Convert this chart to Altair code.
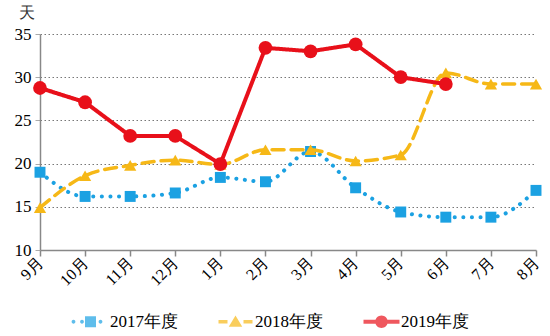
import altair as alt
import pandas as pd

months = ["9月", "10月", "11月", "12月", "1月", "2月", "3月", "4月", "5月", "6月", "7月", "8月"]
series = ["2017年度", "2018年度", "2019年度"]
v2017 = [19.0, 16.2, 16.2, 16.6, 18.4, 17.9, 21.4, 17.2, 14.4, 13.8, 13.8, 16.9]
v2018 = [14.9, 18.6, 19.8, 20.4, 19.9, 21.6, 21.6, 20.3, 21.0, 30.5, 29.2, 29.2]
v2019 = [28.75, 27.1, 23.2, 23.2, 19.95, 33.4, 33.0, 33.8, 30.0, 29.2, None, None]
y_ticks = [10, 15, 20, 25, 30, 35]

colors = ["#1BA1E2", "#F6B817", "#E8101A"]

rows = []
for s, vals in zip(series, [v2017, v2018, v2019]):
    for m, v in zip(months, vals):
        if v is not None:
            rows.append({"month": m, "value": v, "series": s})
df = pd.DataFrame(rows)

FONT = "Liberation Serif"

x_enc = alt.X("month:N", sort=months, scale=alt.Scale(domain=months, padding=0),
              axis=alt.Axis(title=None, labelAngle=-45, labelAlign="right", labelBaseline="middle",
                            labelFont=FONT, labelFontSize=16, labelColor="#000", labelPadding=4,
                            domainColor="#888", domainWidth=1.5, tickColor="#888", tickSize=6,
                            tickWidth=1.5, grid=False))
y_enc = alt.Y("value:Q", scale=alt.Scale(domain=[10, 35], nice=False, zero=False),
              axis=alt.Axis(values=y_ticks, title="天", titleAngle=0, titleX=-22, titleY=-14,
                            titleAlign="left", titleFont=FONT, titleFontSize=16,
                            titleFontWeight="normal", titleColor="#333",
                            labelFont=FONT, labelFontSize=17, labelColor="#000", labelPadding=4,
                            domainColor="#888", domainWidth=1.5, tickColor="#aaa", tickSize=5,
                            grid=True, gridColor="#777", gridDash=[1.5, 2.5], gridWidth=1))

styles = {
    "2017年度": dict(dash=[0.1, 8.5], width=4, shape="square", size=120, interp="monotone"),
    "2018年度": dict(dash=[12, 7], width=3.5, shape="triangle-up", size=150, interp="monotone"),
    "2019年度": dict(dash=[1, 0], width=4, shape="circle", size=190, interp="linear"),
}

layers = []
for s, c in zip(series, colors):
    st = styles[s]
    base = alt.Chart(df).transform_filter(alt.datum.series == s)
    line = base.mark_line(color=c, strokeWidth=st["width"], strokeDash=st["dash"],
                          strokeCap="round", interpolate=st["interp"]).encode(x=x_enc, y=y_enc)
    pts = base.mark_point(shape=st["shape"], filled=True, size=st["size"], color=c,
                          opacity=1).encode(x=x_enc, y=y_enc)
    layers += [line, pts]


def dot(cx, r):
    return f"M{cx - r},0a{r},{r} 0 1,1 {2 * r},0a{r},{r} 0 1,1 {-2 * r},0Z"


p2017 = " ".join([dot(-3.4, 0.38), dot(-1.7, 0.38), dot(2.0, 0.38), "M-1.1,-1.1H1.1V1.1H-1.1Z"])
p2018 = "M-3.4,-0.35H-1.6V0.35H-3.4Z M1.6,-0.35H3.4V0.35H1.6Z M0,-1.25L1.35,1.0L-1.35,1.0Z"
p2019 = "M-3.6,-0.4H-1.1V0.4H-3.6Z M1.1,-0.4H3.6V0.4H1.1Z " + dot(0, 1.25)

legend_layer = alt.Chart(df).transform_filter("false").mark_point(filled=True).encode(
    x=x_enc, y=y_enc,
    color=alt.Color("series:N", scale=alt.Scale(domain=series, range=colors),
                    legend=alt.Legend(title=None, orient="none", legendX=42, legendY=279,
                                      direction="horizontal", symbolSize=100,
                                      symbolStrokeWidth=0, labelOffset=11, columnPadding=40,
                                      labelFont=FONT, labelFontSize=17, labelColor="#000")),
    shape=alt.Shape("series:N", scale=alt.Scale(domain=series, range=[p2017, p2018, p2019])),
)

chart = alt.layer(*layers, legend_layer).properties(
    width=496, height=216,
    autosize=alt.AutoSizeParams(type="none"),
    padding={"left": 40, "top": 34, "right": 14, "bottom": 86},
    background="white",
).configure_view(stroke=None)

chart.save("out.html", embed_options={"renderer": "svg", "actions": False})
